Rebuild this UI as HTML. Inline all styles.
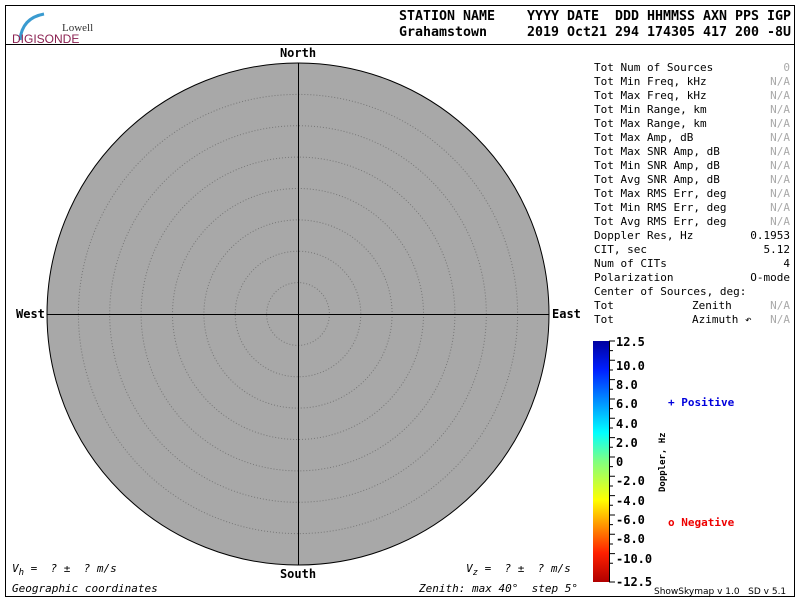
<!DOCTYPE html>
<html><head><style>
body{margin:0;background:#fff;width:800px;height:600px;overflow:hidden;}
svg text{font-family:"DejaVu Sans Mono","Liberation Mono",monospace;white-space:pre;}
</style></head><body>
<svg width="800" height="600" xmlns="http://www.w3.org/2000/svg" xml:space="preserve">
<defs>
<linearGradient id="cb" x1="0" y1="0" x2="0" y2="1">
<stop offset="0" stop-color="#0000a0"/>
<stop offset="0.12" stop-color="#0020ff"/>
<stop offset="0.38" stop-color="#00ffff"/>
<stop offset="0.5" stop-color="#80ff80"/>
<stop offset="0.66" stop-color="#ffff00"/>
<stop offset="0.88" stop-color="#ff2000"/>
<stop offset="1" stop-color="#b00000"/>
</linearGradient>
</defs>
<rect x="5.5" y="5.5" width="789" height="591" fill="none" stroke="#000"/>
<line x1="5" y1="44.5" x2="795" y2="44.5" stroke="#000"/>
<path d="M20 40 Q22 18 44 14" stroke="#3a9bd0" stroke-width="3" fill="none"/>
<text x="62" y="31" font-size="11" fill="#333" style="font-family:'Liberation Serif',serif">Lowell</text>
<text x="12" y="43" font-size="12" fill="#8a2050" style="font-family:'Liberation Sans',sans-serif">DIGISONDE</text>
<text x="399" y="20" font-size="13" font-weight="bold" fill="#000" textLength="392" lengthAdjust="spacingAndGlyphs">STATION NAME    YYYY DATE  DDD HHMMSS AXN PPS IGP</text>
<text x="399" y="36" font-size="13" font-weight="bold" fill="#000" textLength="392" lengthAdjust="spacingAndGlyphs">Grahamstown     2019 Oct21 294 174305 417 200 -8U</text>
<circle cx="298" cy="314" r="251" fill="#a8a8a8" stroke="#000"/>
<g fill="none" stroke="#777" stroke-dasharray="1,2">
<circle cx="298" cy="314" r="31.4"/><circle cx="298" cy="314" r="62.8"/><circle cx="298" cy="314" r="94.1"/>
<circle cx="298" cy="314" r="125.5"/><circle cx="298" cy="314" r="156.9"/><circle cx="298" cy="314" r="188.3"/>
<circle cx="298" cy="314" r="219.6"/></g>
<line x1="298.5" y1="63" x2="298.5" y2="565" stroke="#000"/>
<line x1="47" y1="314.5" x2="549" y2="314.5" stroke="#000"/>
<g font-size="12" font-weight="bold" style="font-family:'DejaVu Sans',sans-serif">
<text x="298" y="57" text-anchor="middle">North</text>
<text x="298" y="578" text-anchor="middle">South</text>
<text x="16" y="318">West</text>
<text x="552" y="318">East</text></g>
<g font-size="11" fill="#000">
<text x="594" y="71">Tot Num of Sources</text><text x="790" y="71" text-anchor="end" fill="#aaa">0</text>
<text x="594" y="85">Tot Min Freq, kHz</text><text x="790" y="85" text-anchor="end" fill="#aaa">N/A</text>
<text x="594" y="99">Tot Max Freq, kHz</text><text x="790" y="99" text-anchor="end" fill="#aaa">N/A</text>
<text x="594" y="113">Tot Min Range, km</text><text x="790" y="113" text-anchor="end" fill="#aaa">N/A</text>
<text x="594" y="127">Tot Max Range, km</text><text x="790" y="127" text-anchor="end" fill="#aaa">N/A</text>
<text x="594" y="141">Tot Max Amp, dB</text><text x="790" y="141" text-anchor="end" fill="#aaa">N/A</text>
<text x="594" y="155">Tot Max SNR Amp, dB</text><text x="790" y="155" text-anchor="end" fill="#aaa">N/A</text>
<text x="594" y="169">Tot Min SNR Amp, dB</text><text x="790" y="169" text-anchor="end" fill="#aaa">N/A</text>
<text x="594" y="183">Tot Avg SNR Amp, dB</text><text x="790" y="183" text-anchor="end" fill="#aaa">N/A</text>
<text x="594" y="197">Tot Max RMS Err, deg</text><text x="790" y="197" text-anchor="end" fill="#aaa">N/A</text>
<text x="594" y="211">Tot Min RMS Err, deg</text><text x="790" y="211" text-anchor="end" fill="#aaa">N/A</text>
<text x="594" y="225">Tot Avg RMS Err, deg</text><text x="790" y="225" text-anchor="end" fill="#aaa">N/A</text>
<text x="594" y="239">Doppler Res, Hz</text><text x="790" y="239" text-anchor="end">0.1953</text>
<text x="594" y="253">CIT, sec</text><text x="790" y="253" text-anchor="end">5.12</text>
<text x="594" y="267">Num of CITs</text><text x="790" y="267" text-anchor="end">4</text>
<text x="594" y="281">Polarization</text><text x="790" y="281" text-anchor="end">O-mode</text>
<text x="594" y="295">Center of Sources, deg:</text>
<text x="594" y="309">Tot</text><text x="692" y="309">Zenith</text><text x="790" y="309" text-anchor="end" fill="#aaa">N/A</text>
<text x="594" y="323">Tot</text><text x="692" y="323">Azimuth ↶</text><text x="790" y="323" text-anchor="end" fill="#aaa">N/A</text>
</g>
<rect x="593" y="341" width="16" height="241" fill="url(#cb)"/>
<g stroke="#000"><line x1="609.5" y1="341" x2="609.5" y2="582"/>
<path d="M609 341h6M609 350.6h4M609 360.3h6M609 370h4M609 379.6h6M609 389.3h4M609 399h6M609 408.6h4M609 418.3h6M609 428h4M609 437.6h6M609 447.3h4M609 457h6M609 466.6h4M609 476.3h6M609 486h4M609 495.6h6M609 505.3h4M609 515h6M609 524.6h4M609 534.3h6M609 544h4M609 553.6h6M609 563.3h4M609 582h6"/></g>
<g font-size="12" font-weight="bold" style="font-family:'DejaVu Sans',sans-serif">
<text x="616" y="346">12.5</text><text x="616" y="370">10.0</text><text x="616" y="389">8.0</text>
<text x="616" y="408">6.0</text><text x="616" y="428">4.0</text><text x="616" y="447">2.0</text>
<text x="616" y="466">0</text><text x="616" y="485">-2.0</text><text x="616" y="505">-4.0</text>
<text x="616" y="524">-6.0</text><text x="616" y="543">-8.0</text><text x="616" y="563">-10.0</text>
<text x="616" y="586">-12.5</text>
<text font-size="9" transform="translate(665,492) rotate(-90)">Doppler, Hz</text>
<text x="668" y="406" fill="#0000dd" font-size="11">+ Positive</text>
<text x="668" y="526" fill="#ee0000" font-size="11">o Negative</text></g>
<g font-size="11" font-style="italic">
<text x="12" y="572">V<tspan font-size="9" dy="3">h</tspan><tspan dy="-3"> =  ? ±  ? m/s</tspan></text>
<text x="466" y="572">V<tspan font-size="9" dy="3">z</tspan><tspan dy="-3"> =  ? ±  ? m/s</tspan></text>
<text x="12" y="592">Geographic coordinates</text>
<text x="419" y="592">Zenith: max 40°  step 5°</text></g>
<text x="654" y="594" font-size="9" style="font-family:'DejaVu Sans',sans-serif">ShowSkymap v 1.0   SD v 5.1</text>
</svg>
</body></html>
